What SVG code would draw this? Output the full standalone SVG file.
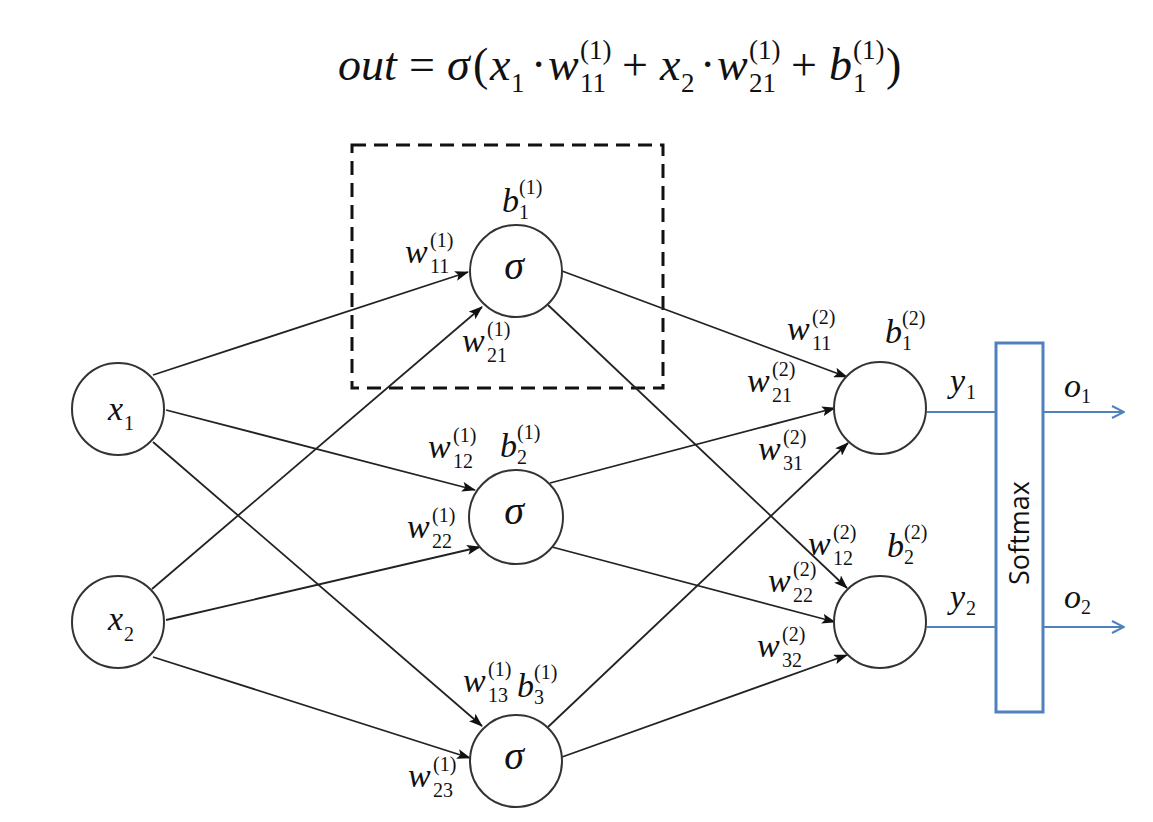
<svg xmlns="http://www.w3.org/2000/svg" width="1153" height="822" viewBox="0 0 1153 822">
<style>
.m{font-family:"Liberation Serif",serif;font-style:italic;font-size:34px;fill:#111}
.s{font-style:normal;font-size:20px}
.f{font-family:"Liberation Serif",serif;font-style:italic;font-size:46px;fill:#111}
.fs{font-style:normal;font-size:27px}
.fu{font-style:normal}
.sig{font-family:"Liberation Serif",serif;font-style:italic;font-size:40px;fill:#111;text-anchor:middle}
.node circle{fill:#fff;stroke:#333;stroke-width:2}
.edge line{stroke:#222;stroke-width:1.8;marker-end:url(#ah)}
.blue{stroke:#4f81bd;stroke-width:2;fill:none}
.sm{font-family:"Open Sans","Liberation Sans",sans-serif;font-size:27px;fill:#111;text-anchor:middle}
</style>
<defs>
<marker id="ah" viewBox="0 0 14 10" refX="13" refY="5" markerWidth="14" markerHeight="10" markerUnits="userSpaceOnUse" orient="auto"><path d="M0,0 L14,5 L0,10 L3,5 z" fill="#111"/></marker>
<marker id="oa" viewBox="0 0 14 14" refX="13" refY="7" markerWidth="14" markerHeight="14" markerUnits="userSpaceOnUse" orient="auto"><path d="M1,1 L13,7 L1,13" fill="none" stroke="#4f81bd" stroke-width="2"/></marker>
</defs>
<rect width="1153" height="822" fill="#fff"/>

<g id="formula">
<text class="f"><tspan x="338" y="80">out</tspan><tspan class="fu" x="409" y="80">=</tspan><tspan x="447" y="80">σ</tspan><tspan class="fu" x="473" y="80">(</tspan><tspan x="490" y="80">x</tspan><tspan class="fs" x="511" y="92">1</tspan><tspan class="fu" x="531" y="80">·</tspan><tspan x="548" y="80">w</tspan><tspan class="fs" x="580" y="92">11</tspan><tspan class="fs" x="580" y="59">(1)</tspan><tspan class="fu" x="622" y="80">+</tspan><tspan x="660" y="80">x</tspan><tspan class="fs" x="681" y="92">2</tspan><tspan class="fu" x="700" y="80">·</tspan><tspan x="717" y="80">w</tspan><tspan class="fs" x="749" y="92">21</tspan><tspan class="fs" x="749" y="59">(1)</tspan><tspan class="fu" x="791" y="80">+</tspan><tspan x="829" y="80">b</tspan><tspan class="fs" x="853" y="92">1</tspan><tspan class="fs" x="853" y="59">(1)</tspan><tspan class="fu" x="886" y="80">)</tspan></text>
</g>

<rect id="highlight" x="352" y="145" width="311" height="243" fill="none" stroke="#111" stroke-width="3" stroke-dasharray="14 8"/>

<g id="connectors" class="edge">
<line x1="153" y1="375" x2="468" y2="272"/>
<line x1="152" y1="589" x2="482" y2="307"/>
<line x1="166" y1="410" x2="475" y2="490"/>
<line x1="166" y1="620" x2="480" y2="547"/>
<line x1="153" y1="442" x2="482" y2="726"/>
<line x1="153" y1="657" x2="470" y2="758"/>
<line x1="562" y1="271" x2="847" y2="377"/>
<line x1="548" y1="305" x2="847" y2="588"/>
<line x1="550" y1="483" x2="835" y2="408"/>
<line x1="552" y1="547" x2="835" y2="622"/>
<line x1="548" y1="727" x2="848" y2="443"/>
<line x1="562" y1="757" x2="847" y2="655"/>
</g>

<g id="softmax-connectors">
<line class="blue" x1="927" y1="412" x2="996" y2="412"/>
<line class="blue" x1="927" y1="627" x2="996" y2="627"/>
<line class="blue" x1="1043" y1="412" x2="1124" y2="412" marker-end="url(#oa)"/>
<line class="blue" x1="1043" y1="627" x2="1124" y2="627" marker-end="url(#oa)"/>
</g>

<g id="node-x1" class="node"><circle cx="118" cy="409" r="46"/><text class="m"><tspan x="108" y="420">x</tspan><tspan class="s" x="124" y="430">1</tspan></text></g>
<g id="node-x2" class="node"><circle cx="118" cy="622" r="46"/><text class="m"><tspan x="108" y="630">x</tspan><tspan class="s" x="124" y="641">2</tspan></text></g>
<g id="node-h1" class="node"><circle cx="516" cy="271" r="46"/><text class="sig" x="514" y="279">σ</text></g>
<g id="node-h2" class="node"><circle cx="516" cy="517" r="47"/><text class="sig" x="514" y="524">σ</text></g>
<g id="node-h3" class="node"><circle cx="516" cy="761" r="46"/><text class="sig" x="514" y="769">σ</text></g>
<g id="node-o1" class="node"><circle cx="880" cy="408" r="46"/></g>
<g id="node-o2" class="node"><circle cx="880" cy="622" r="46"/></g>
<g id="node-softmax"><rect x="996" y="343" width="47" height="369" fill="#fff" stroke="#4f81bd" stroke-width="3"/><text class="sm" transform="translate(1029 533) rotate(-90)">Softmax</text></g>

<g id="bias-labels">
<text class="m"><tspan x="502" y="212">b</tspan><tspan class="s" x="519" y="219">1</tspan><tspan class="s" x="519" y="194">(1)</tspan></text>
<text class="m"><tspan x="500" y="457">b</tspan><tspan class="s" x="517" y="464">2</tspan><tspan class="s" x="517" y="439">(1)</tspan></text>
<text class="m"><tspan x="517" y="697">b</tspan><tspan class="s" x="534" y="704">3</tspan><tspan class="s" x="534" y="679">(1)</tspan></text>
<text class="m"><tspan x="885" y="343">b</tspan><tspan class="s" x="902" y="350">1</tspan><tspan class="s" x="902" y="325">(2)</tspan></text>
<text class="m"><tspan x="887" y="557">b</tspan><tspan class="s" x="904" y="564">2</tspan><tspan class="s" x="904" y="539">(2)</tspan></text>
</g>

<g id="weight-labels">
<text class="m"><tspan x="405" y="263">w</tspan><tspan class="s" x="430" y="273">11</tspan><tspan class="s" x="430" y="247">(1)</tspan></text>
<text class="m"><tspan x="462" y="352">w</tspan><tspan class="s" x="487" y="362">21</tspan><tspan class="s" x="487" y="336">(1)</tspan></text>
<text class="m"><tspan x="428" y="458">w</tspan><tspan class="s" x="453" y="468">12</tspan><tspan class="s" x="453" y="442">(1)</tspan></text>
<text class="m"><tspan x="407" y="538">w</tspan><tspan class="s" x="432" y="548">22</tspan><tspan class="s" x="432" y="522">(1)</tspan></text>
<text class="m"><tspan x="463" y="692">w</tspan><tspan class="s" x="488" y="702">13</tspan><tspan class="s" x="488" y="676">(1)</tspan></text>
<text class="m"><tspan x="408" y="787">w</tspan><tspan class="s" x="433" y="797">23</tspan><tspan class="s" x="433" y="771">(1)</tspan></text>
<text class="m"><tspan x="787" y="340">w</tspan><tspan class="s" x="812" y="350">11</tspan><tspan class="s" x="812" y="324">(2)</tspan></text>
<text class="m"><tspan x="747" y="392">w</tspan><tspan class="s" x="772" y="402">21</tspan><tspan class="s" x="772" y="376">(2)</tspan></text>
<text class="m"><tspan x="758" y="460">w</tspan><tspan class="s" x="783" y="470">31</tspan><tspan class="s" x="783" y="444">(2)</tspan></text>
<text class="m"><tspan x="808" y="555">w</tspan><tspan class="s" x="833" y="565">12</tspan><tspan class="s" x="833" y="539">(2)</tspan></text>
<text class="m"><tspan x="768" y="592">w</tspan><tspan class="s" x="793" y="602">22</tspan><tspan class="s" x="793" y="576">(2)</tspan></text>
<text class="m"><tspan x="757" y="657">w</tspan><tspan class="s" x="782" y="667">32</tspan><tspan class="s" x="782" y="641">(2)</tspan></text>
</g>

<g id="io-labels">
<text class="m"><tspan x="950" y="392">y</tspan><tspan class="s" x="966" y="399">1</tspan></text>
<text class="m"><tspan x="950" y="608">y</tspan><tspan class="s" x="966" y="615">2</tspan></text>
<text class="m"><tspan x="1064" y="397">o</tspan><tspan class="s" x="1081" y="403">1</tspan></text>
<text class="m"><tspan x="1064" y="608">o</tspan><tspan class="s" x="1081" y="614">2</tspan></text>
</g>
</svg>
